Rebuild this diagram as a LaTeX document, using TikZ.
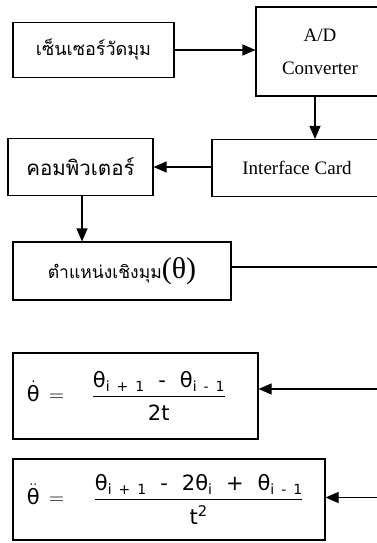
\documentclass[tikz,border=0pt]{standalone}
\usepackage{amsmath}
\usepackage{fontspec}
\setmainfont{Liberation Serif}
\newfontfamily\thaifont[Script=Thai]{Loma}
\newfontfamily\eqfont{DejaVu Sans}
\usetikzlibrary{positioning, arrows.meta}
\newcommand{\idx}[1]{\raisebox{-4pt}{\fontsize{14}{14}\selectfont #1}}

\begin{document}
\begin{tikzpicture}[x=1pt,y=-1pt,
    line width=1.1pt,
    >={Triangle[length=13pt,width=11pt]},
    block/.style={draw, rectangle, inner sep=2pt, align=center},
    thai/.style={font=\thaifont\fontsize{#1}{22}\selectfont},
    thai/.default=19,
    latin/.style={font=\fontsize{19}{33}\selectfont},
    eqn/.style={draw, rectangle, inner ysep=2pt, inner xsep=14pt, align=left,
                font=\eqfont\fontsize{21}{24}\selectfont}]
            \useasboundingbox (0,0) rectangle (377,543);
            \coordinate (rim) at (380,0);
            \node[block, thai=18, minimum width=161pt, minimum height=55pt] (sensor) at (93.5,50) {เซ็นเซอร์วัดมุม};
            \node[block, latin, minimum width=128pt, minimum height=89pt] (adc) at (320,51.5) {A/D\\Converter};
            \node[block, latin, minimum width=170pt, minimum height=57pt] (iface) at (297,168) {Interface Card};
            \node[block, thai=20.5, minimum width=145pt, minimum height=57pt] (computer) at (80.5,167) {คอมพิวเตอร์};
            \node[block, thai=17.5, minimum width=218pt, minimum height=58pt] (angle) at (122,271)
                {ตำแหน่งเชิงมุม{\fontspec{Liberation Serif}\fontsize{30}{30}\selectfont(θ)}};
            \node[eqn, text width=217pt, minimum height=86pt] (velocity) at (135.5,396)
                {$\dot{\text{θ}}\,= \hspace{22pt}\dfrac{\text{θ\idx{i + 1}\ \ -\ \ θ\idx{i - 1}}}{\text{\rule{0pt}{22pt}2t}}$};
            \node[eqn, text width=284pt, minimum height=81pt] (accel) at (169,499.5)
                {$\ddot{\text{θ}}\,= \hspace{24pt}\dfrac{\text{θ\idx{i + 1}\ \ -\ \ 2θ\idx{i}\ \ +\ \ θ\idx{i - 1}}}{\text{\rule{0pt}{22pt}t\textsuperscript{2}}}$};
                \path[->]
                (sensor) edge (sensor.east -| adc.west)
                (iface.west |- computer.east) edge (computer.east);
                \draw[->] ([xshift=-5pt]adc.south) -- ([xshift=-5pt]adc.south |- iface.north);
                \draw[->] ([xshift=1.5pt]computer.south) -- ([xshift=1.5pt]computer.south |- angle.north);
                \draw ([yshift=4pt]angle.east) -- ([yshift=4pt]angle.east -| rim);
                \draw[->] ([yshift=7pt]rim |- velocity.east) -- ([yshift=7pt]velocity.east);
                \draw[->] ([yshift=2pt]rim |- accel.east) -- ([yshift=2pt]accel.east);
        \end{tikzpicture}
\end{document}
